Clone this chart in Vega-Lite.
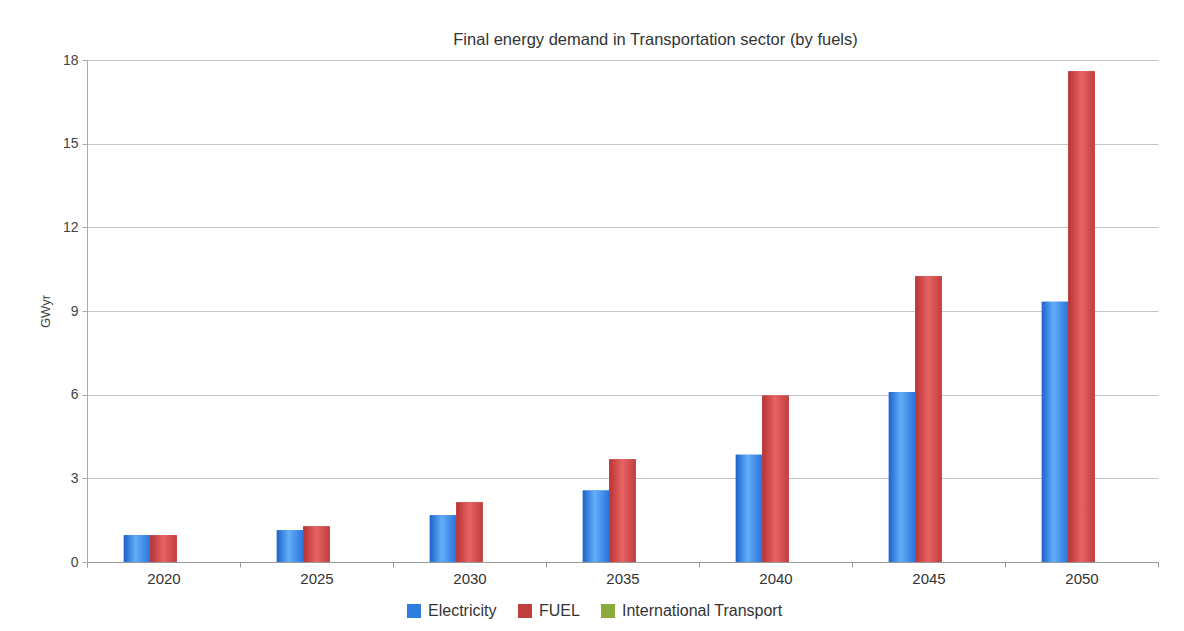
{
  "$schema": "https://vega.github.io/schema/vega-lite/v6.json",
  "width": 1071,
  "height": 502,
  "autosize": {"type": "none"},
  "padding": {"left": 87, "top": 60, "right": 26, "bottom": 69},
  "background": "white",
  "title": {
    "text": "Final energy demand in Transportation sector (by fuels)",
    "font": "Liberation Sans",
    "fontSize": 16.5,
    "fontWeight": "normal",
    "color": "#333333",
    "anchor": "middle",
    "dx": 33,
    "offset": 5
  },
  "data": {
    "values": [
      {"year": "2020", "fuel": "Electricity", "value": 0.96},
      {"year": "2020", "fuel": "FUEL", "value": 0.96},
      {"year": "2020", "fuel": "International Transport", "value": 0},
      {"year": "2025", "fuel": "Electricity", "value": 1.14},
      {"year": "2025", "fuel": "FUEL", "value": 1.28},
      {"year": "2025", "fuel": "International Transport", "value": 0},
      {"year": "2030", "fuel": "Electricity", "value": 1.68},
      {"year": "2030", "fuel": "FUEL", "value": 2.14},
      {"year": "2030", "fuel": "International Transport", "value": 0},
      {"year": "2035", "fuel": "Electricity", "value": 2.56},
      {"year": "2035", "fuel": "FUEL", "value": 3.68},
      {"year": "2035", "fuel": "International Transport", "value": 0},
      {"year": "2040", "fuel": "Electricity", "value": 3.85},
      {"year": "2040", "fuel": "FUEL", "value": 5.97},
      {"year": "2040", "fuel": "International Transport", "value": 0},
      {"year": "2045", "fuel": "Electricity", "value": 6.1},
      {"year": "2045", "fuel": "FUEL", "value": 10.25},
      {"year": "2045", "fuel": "International Transport", "value": 0},
      {"year": "2050", "fuel": "Electricity", "value": 9.33},
      {"year": "2050", "fuel": "FUEL", "value": 17.6},
      {"year": "2050", "fuel": "International Transport", "value": 0}
    ]
  },
  "encoding": {
    "x": {
      "field": "year",
      "type": "nominal",
      "scale": {"paddingInner": 0, "paddingOuter": 0},
      "axis": {
        "title": null,
        "labelAngle": 0,
        "labelFont": "Liberation Sans",
        "labelFontSize": 15,
        "labelColor": "#333333",
        "labelPadding": 4,
        "tickBand": "extent",
        "tickSize": 5,
        "tickColor": "#999999",
        "domainColor": "#999999",
        "grid": false
      }
    },
    "xOffset": {
      "field": "fuel",
      "type": "nominal",
      "scale": {"domain": ["pad_left", "Electricity", "FUEL", "International Transport", "pad_right"], "paddingInner": 0, "paddingOuter": 0.39}
    },
    "y": {
      "field": "value",
      "type": "quantitative",
      "scale": {"domain": [0, 18], "nice": false},
      "axis": {
        "title": "GWyr",
        "titleFont": "Liberation Sans",
        "titleFontSize": 13,
        "titleFontWeight": "normal",
        "titleColor": "#444444",
        "titlePadding": 10,
        "values": [0, 3, 6, 9, 12, 15, 18],
        "labelFont": "Liberation Sans",
        "labelFontSize": 14,
        "labelColor": "#444444",
        "labelPadding": 4,
        "tickSize": 5,
        "tickColor": "#aaaaaa",
        "domainColor": "#aaaaaa",
        "gridColor": "#c4c4c4",
        "grid": true
      }
    }
  },
  "layer": [
    {
      "mark": {"type": "bar"},
      "encoding": {
        "color": {
          "field": "fuel",
          "type": "nominal",
          "scale": {
            "domain": ["Electricity", "FUEL", "International Transport"],
            "range": ["#2f7de1", "#c0403f", "#8aab3c"]
          },
          "legend": {
            "title": null,
            "orient": "none",
            "legendX": 319,
            "legendY": 543,
            "direction": "horizontal",
            "symbolType": "square",
            "symbolSize": 196,
            "symbolStrokeWidth": 0,
            "labelFont": "Liberation Sans",
            "labelFontSize": 16,
            "labelColor": "#333333",
            "labelOffset": 6,
            "labelLimit": 400,
            "columnPadding": 20
          }
        }
      }
    },
    {
      "transform": [{"filter": "datum.fuel === 'Electricity'"}],
      "mark": {
        "type": "bar",
        "fill": {
          "gradient": "linear",
          "x1": 0, "x2": 1, "y1": 0, "y2": 0,
          "stops": [
            {"offset": 0, "color": "#1e62cc"},
            {"offset": 0.45, "color": "#63aef8"},
            {"offset": 1, "color": "#2a73dd"}
          ]
        }
      }
    },
    {
      "transform": [{"filter": "datum.fuel === 'FUEL'"}],
      "mark": {
        "type": "bar",
        "fill": {
          "gradient": "linear",
          "x1": 0, "x2": 1, "y1": 0, "y2": 0,
          "stops": [
            {"offset": 0, "color": "#b83434"},
            {"offset": 0.5, "color": "#e86464"},
            {"offset": 1, "color": "#c03d3d"}
          ]
        }
      }
    }
  ],
  "config": {
    "view": {"stroke": null}
  }
}
